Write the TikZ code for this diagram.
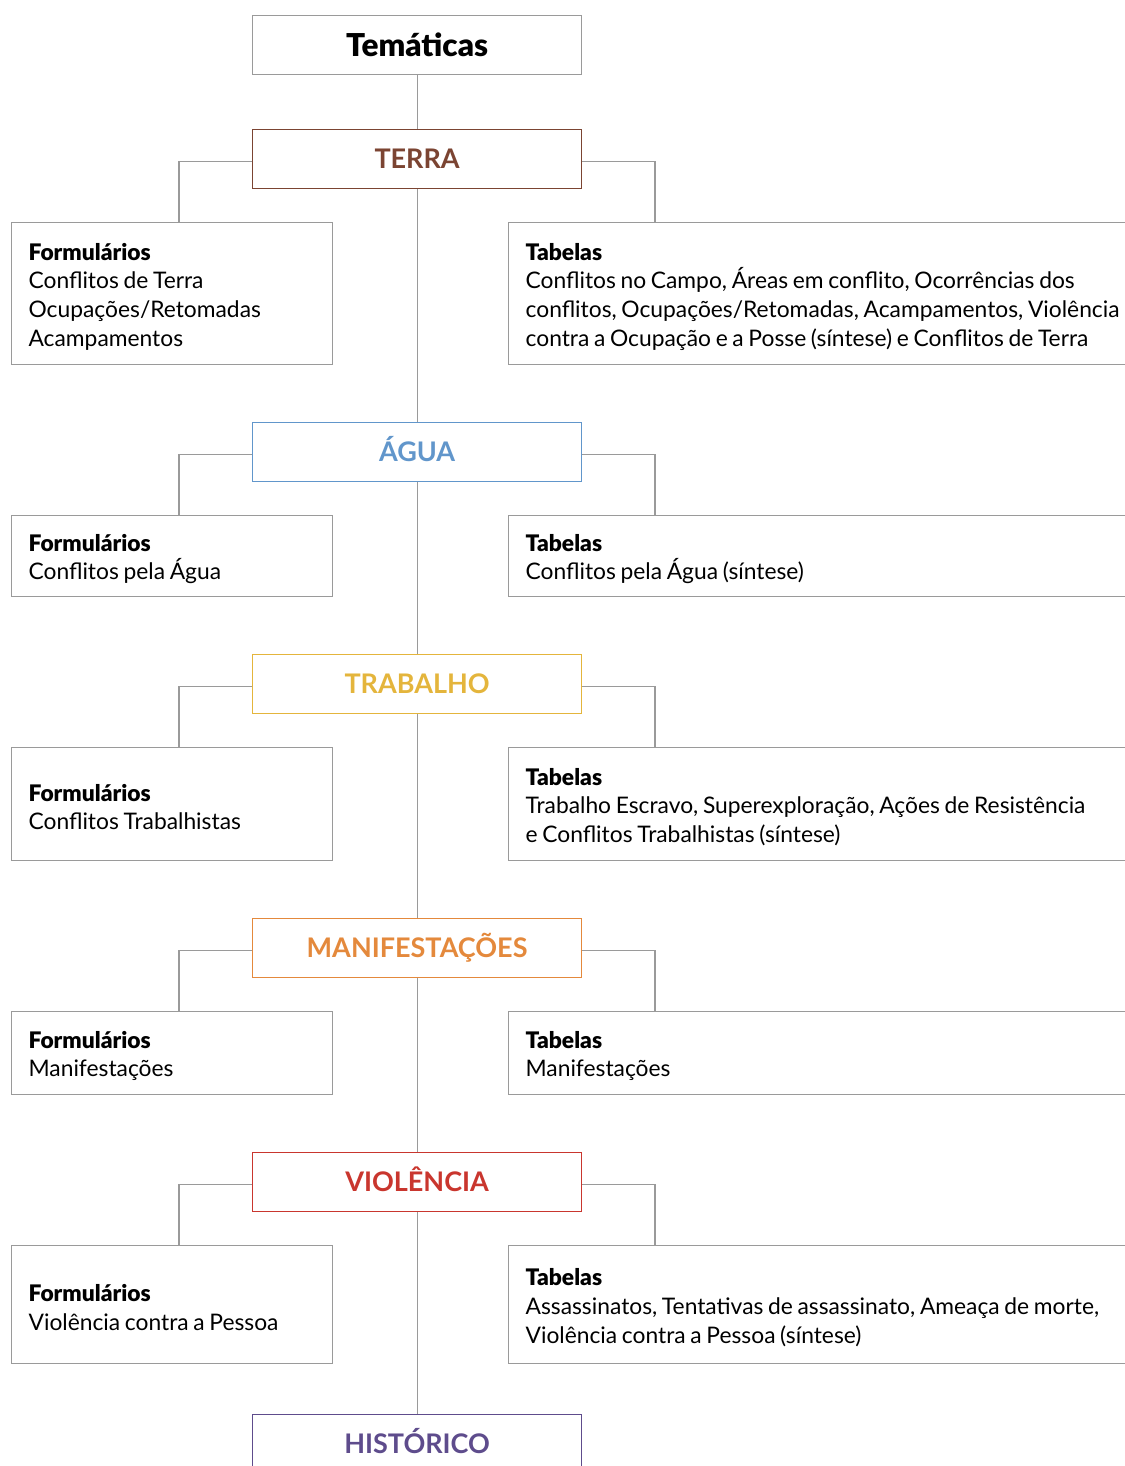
\documentclass[tikz,border=0pt]{standalone}
\usepackage{fontspec}
\setmainfont{Lato}[WordSpace=0.8]
\newfontfamily\blackfont{Lato Black}[WordSpace=0.8]
\usetikzlibrary{calc}
\definecolor{linegray}{HTML}{9A9A9A}
\definecolor{cterra}{HTML}{7B4432}
\definecolor{cagua}{HTML}{6196CB}
\definecolor{ctrab}{HTML}{E4B53C}
\definecolor{cmanif}{HTML}{E4893C}
\definecolor{cviol}{HTML}{C9362E}
\definecolor{chist}{HTML}{5E4C8C}
\newcommand{\hd}[1]{\rule{0pt}{23pt}{\blackfont #1}}
\begin{document}
\begin{tikzpicture}[x=1pt,y=1pt,
  frame/.style={draw=linegray, line width=1.2pt},
  topic/.style={frame, anchor=north west, minimum width=329pt, minimum height=59pt, inner sep=0pt, text height=19.4pt, text depth=0pt, font=\fontsize{27}{30}\selectfont\bfseries},
  lbox/.style={frame, anchor=north west, text width=287pt, inner xsep=17pt, inner ysep=0pt, align=flush left, font=\fontsize{22.8}{28.7}\selectfont},
  rbox/.style={lbox, text width=605pt},
  conn/.style={draw=linegray, line width=1.2pt}]
\useasboundingbox (0,0) rectangle (1124,-1466);
\coordinate (bl) at (179,0);
\coordinate (br) at (655,0);

\node[topic, text height=22.5pt, font=\fontsize{31.5}{34}\selectfont\blackfont] (tem) at (252,-15) {Temáticas};

% TERRA
\node[topic, draw=cterra, text=cterra] (terra) at (252,-129) {TERRA};
\node[lbox, minimum height=142pt] (lf1) at (11,-222) {\hd{Formulários}\\Conflitos de Terra\\Ocupações/Retomadas\\Acampamentos};
\node[rbox, minimum height=142pt] (rt1) at (508,-222) {\hd{Tabelas}\\Conflitos no Campo, Áreas em conflito, Ocorrências dos\\conflitos, Ocupações/Retomadas, Acampamentos, Violência\\contra a Ocupação e a Posse (síntese) e Conflitos de Terra};

% AGUA
\node[topic, draw=cagua, text=cagua] (agua) at (252,-422) {ÁGUA};
\node[lbox, minimum height=81pt] (lf2) at (11,-515) {\hd{Formulários}\\Conflitos pela Água};
\node[rbox, minimum height=81pt] (rt2) at (508,-515) {\hd{Tabelas}\\Conflitos pela Água (síntese)};

% TRABALHO
\node[topic, draw=ctrab, text=ctrab] (trab) at (252,-654) {TRABALHO};
\node[lbox, minimum height=113pt] (lf3) at (11,-747) {\hd{Formulários}\\Conflitos Trabalhistas};
\node[rbox, minimum height=113pt] (rt3) at (508,-747) {\hd{Tabelas}\\Trabalho Escravo, Superexploração, Ações de Resistência\\e Conflitos Trabalhistas (síntese)};

% MANIFESTACOES
\node[topic, draw=cmanif, text=cmanif] (manif) at (252,-918) {MANIFESTAÇÕES};
\node[lbox, minimum height=83pt] (lf4) at (11,-1011) {\hd{Formulários}\\Manifestações};
\node[rbox, minimum height=83pt] (rt4) at (508,-1011) {\hd{Tabelas}\\Manifestações};

% VIOLENCIA
\node[topic, draw=cviol, text=cviol] (viol) at (252,-1152) {VIOLÊNCIA};
\node[lbox, minimum height=118pt] (lf5) at (11,-1245) {\hd{Formulários}\\Violência contra a Pessoa};
\node[rbox, minimum height=118pt] (rt5) at (508,-1245) {\hd{Tabelas}\\Assassinatos, Tentativas de assassinato, Ameaça de morte,\\Violência contra a Pessoa (síntese)};

% HISTORICO
\node[topic, draw=chist, text=chist] (hist) at (252,-1414) {HISTÓRICO};

% spine
\draw[conn] (tem.south) -- (terra.north);
\draw[conn] (terra.south) -- (agua.north);
\draw[conn] (agua.south) -- (trab.north);
\draw[conn] (trab.south) -- (manif.north);
\draw[conn] (manif.south) -- (viol.north);
\draw[conn] (viol.south) -- (hist.north);

% branches
\foreach \t/\l/\r in {terra/lf1/rt1, agua/lf2/rt2, trab/lf3/rt3, manif/lf4/rt4, viol/lf5/rt5} {
  \draw[conn] ([yshift=-2.5pt]\t.west) -| (\l.north -| bl);
  \draw[conn] ([yshift=-2.5pt]\t.east) -| (\r.north -| br);
}
\end{tikzpicture}
\end{document}
